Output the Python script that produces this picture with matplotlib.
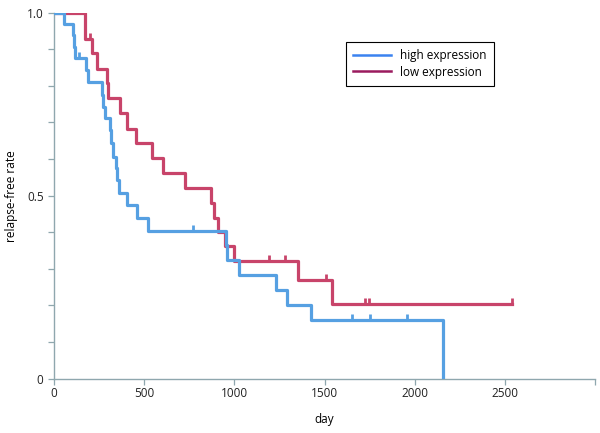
import numpy as np
import matplotlib
matplotlib.use('Agg')
import matplotlib.pyplot as plt
from matplotlib.lines import Line2D

plt.rcParams['font.family'] = ['Open Sans', 'DejaVu Sans']
plt.rcParams['font.size'] = 8.5

# high expression group
high_days = [0, 55, 104, 111, 116, 178, 190, 264, 272, 283, 310, 318, 329, 343, 350, 362,
             403, 460, 523, 954, 960, 1028, 1231, 1294, 1424, 2156]
high_surv = [1, 0.969, 0.939, 0.907, 0.875, 0.843, 0.811, 0.775, 0.743, 0.711, 0.679, 0.643,
             0.607, 0.575, 0.543, 0.507, 0.474, 0.44, 0.404, 0.364, 0.323, 0.282, 0.242,
             0.201, 0.160, 0]
high_censor = [140, 773, 1651, 1753, 1956]

# low expression group
low_days = [0, 172, 209, 237, 292, 300, 366, 406, 455, 542, 603, 727, 872, 885, 908, 948,
            1000, 1353, 1540, 2540]
low_surv = [1, 0.927, 0.889, 0.845, 0.809, 0.766, 0.725, 0.683, 0.643, 0.603, 0.563, 0.521,
            0.481, 0.440, 0.400, 0.362, 0.322, 0.270, 0.204, 0.204]
low_censor = [200, 1192, 1281, 1507, 1725, 1747, 2540]

blue = '#56a0e2'
red = '#c8446a'
axis_col = '#8fa7ae'


def surv_at(days, surv, t):
    i = np.searchsorted(days, t, side='right') - 1
    return np.array(surv)[i]


fig = plt.figure(figsize=(6, 4.33), dpi=100)
ax = fig.add_axes([0.09, 0.1254, 0.9017, 0.8453])

ax.step(low_days, low_surv, where='post', color=red, lw=2.3, zorder=2)
ax.step(high_days, high_surv, where='post', color=blue, lw=2.3, zorder=3)
ax.plot(low_censor, surv_at(low_days, low_surv, low_censor), ls='none', marker=2,
        ms=4, mew=2, color=red, zorder=2)
ax.plot(high_censor, surv_at(high_days, high_surv, high_censor), ls='none', marker=2,
        ms=4, mew=2, color=blue, zorder=3)

ax.set_xlim(0, 3000)
ax.set_ylim(0, 1)
ax.set_xticks([0, 500, 1000, 1500, 2000, 2500, 3000])
ax.set_xticklabels(['0', '500', '1000', '1500', '2000', '2500', ''])
ax.set_yticks([0, 0.5, 1.0])
ax.set_yticklabels(['0', '0.5', '1.0'])
ax.set_yticks(np.arange(0.1, 1.0, 0.1), minor=True)
ax.tick_params(which='both', color=axis_col, length=4, width=0.9, labelcolor='#222222')
ax.tick_params(axis='x', pad=2)
for s in ['top', 'right']:
    ax.spines[s].set_visible(False)
for s in ['left', 'bottom']:
    ax.spines[s].set_color(axis_col)
    ax.spines[s].set_linewidth(1.0)

ax.set_xlabel('day', labelpad=9)
ax.set_ylabel('relapse-free rate', labelpad=6)

handles = [Line2D([], [], color='#3b82f0', lw=1.8),
           Line2D([], [], color='#9b1a5e', lw=1.8)]
leg = ax.legend(handles, ['high expression', 'low expression'], loc='upper left',
                bbox_to_anchor=(346 / 600, 1 - 42 / 433), bbox_transform=fig.transFigure,
                fancybox=False, edgecolor='black', framealpha=1, handlelength=3.2,
                borderpad=0.6, labelspacing=0.3, handletextpad=0.8, borderaxespad=0)
leg.get_frame().set_linewidth(0.8)

fig.savefig('out.png', dpi=100)
